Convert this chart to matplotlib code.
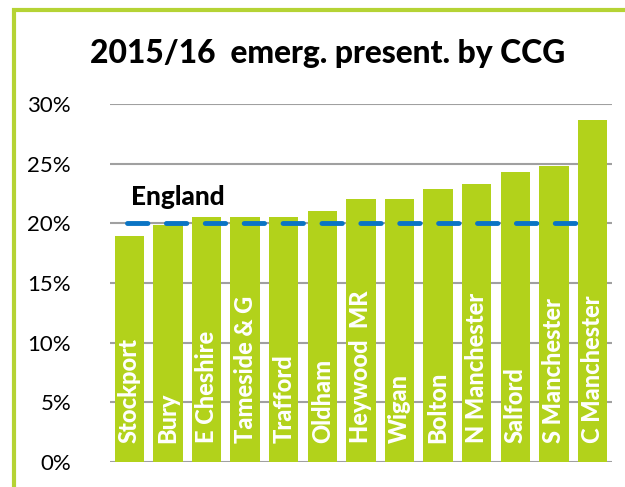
import matplotlib
matplotlib.use('Agg')
import matplotlib.pyplot as plt
from matplotlib.patches import Rectangle
from matplotlib.ticker import FuncFormatter

# emergency presentations share by CCG, 2015/16
ccgs = ['Stockport', 'Bury', 'E Cheshire', 'Tameside & G', 'Trafford', 'Oldham',
        'Heywood  MR', 'Wigan', 'Bolton', 'N Manchester', 'Salford',
        'S Manchester', 'C Manchester']
rates = [0.189, 0.199, 0.205, 0.205, 0.205, 0.210, 0.220, 0.220, 0.229,
         0.233, 0.243, 0.248, 0.287]
england = 0.20
yticks = [0, 0.05, 0.10, 0.15, 0.20, 0.25, 0.30]

bar_col = '#b2d21b'
font = 'Lato'

fig = plt.figure(figsize=(6.25, 4.87), dpi=100)
ax = fig.add_axes([0.176, 0.0513, 0.803, 0.7351])

# outer frame of the chart box
fig.patches.append(Rectangle((0.0225, -0.2), 1.2, 1.18, transform=fig.transFigure,
                             fill=False, edgecolor='#b5d334', linewidth=3))

x = range(len(ccgs))
ax.bar(x, rates, width=0.76, color=bar_col, zorder=2)

for i, name in enumerate(ccgs):
    ax.text(i, 0.016, name, rotation=90, ha='center', va='bottom', color='white',
            fontsize=17, fontweight='black', family=font, zorder=3)

ax.plot([-0.06, 11.85], [england, england], color='#0a74c4', linewidth=3.5,
        dashes=(4.2, 3.8), dash_capstyle='round', zorder=4)
ax.text(0.04, england + 0.012, 'England', fontsize=18.8, fontweight='black',
        family=font, ha='left', va='bottom')

ax.set_xlim(-0.5, 12.5)
ax.set_ylim(0, 0.30)
ax.set_yticks(yticks)
ax.yaxis.set_major_formatter(FuncFormatter(lambda v, p: '{:.0f}%'.format(v * 100)))
ax.set_xticks([])
ax.grid(axis='y', color='#a0a0a0', linewidth=1.5, zorder=0)
ax.set_axisbelow(True)
for s in ax.spines.values():
    s.set_visible(False)
ax.tick_params(axis='y', length=0, pad=28, labelsize=16)
for lab in ax.get_yticklabels():
    lab.set_family(font)

fig.text(0.525, 0.89, '2015/16  emerg. present. by CCG', ha='center', va='center',
         fontsize=22.9, fontweight='black', family=font)

fig.savefig('out.png', dpi=100)
